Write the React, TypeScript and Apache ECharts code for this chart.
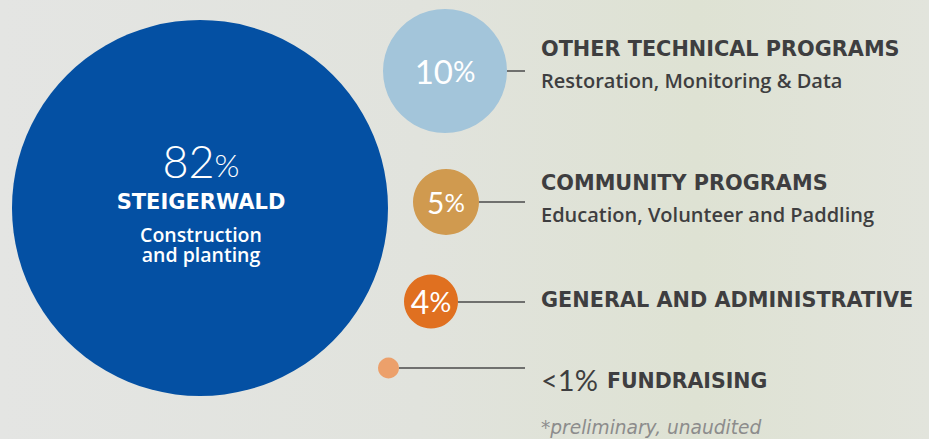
import React, { useEffect, useRef } from "react";
import * as echarts from "echarts";

// ---- data ----
const categories = [
  "STEIGERWALD",
  "OTHER TECHNICAL PROGRAMS",
  "COMMUNITY PROGRAMS",
  "GENERAL AND ADMINISTRATIVE",
  "FUNDRAISING",
];
const values = [82, 10, 5, 4, 0.5];
const percentLabels = ["82", "10", "5", "4", "<1"];
const descriptions = [
  "Construction\nand planting",
  "Restoration, Monitoring & Data",
  "Education, Volunteer and Paddling",
  "",
  "",
];
const footnote = "*preliminary, unaudited";

// ---- layout / style (not data) ----
const W = 929;
const H = 439;
const centers: [number, number][] = [
  [200, 208],
  [445, 71],
  [446, 202],
  [431, 301.5],
  [388.5, 368],
];
const diameters = [376, 124, 66, 54, 21];
const colors = ["#0450a3", "#a3c5da", "#d09a4f", "#e07020", "#eca06b"];
const pctFont = [40, 33, 30, 32, 0];
const lineEndX = 525;
const textX = 541;
const titleY = [0, 48.5, 182.5, 299.5, 379];
const descY = [0, 80, 214.5, 0, 0];
const DARK = "#3e3e40";
const SANS = "'DejaVu Sans', 'Noto Sans', sans-serif";
const SEMI = "'Open Sans', 'DejaVu Sans', sans-serif";
const LIGHT = "Lato, 'Open Sans', 'DejaVu Sans', sans-serif";

export default function App() {
  const ref = useRef<HTMLDivElement>(null);
  useEffect(() => {
    document.body.style.margin = "0";
    const chart = echarts.init(ref.current!, null, { renderer: "svg" });

    const scatterData = values.map((v, i) => {
      let label: any;
      if (i === 0) {
        label = {
          show: true,
          position: "inside",
          offset: [1, -4.5],
          formatter: `{num|${percentLabels[0]}}{pct|%}\n{name|${categories[0]}}\n` +
            descriptions[0].split("\n").map((d) => `{desc|${d}}`).join("\n"),
          rich: {
            num: { fontFamily: LIGHT, fontWeight: 300, fontSize: 45, color: "#fff", lineHeight: 37 },
            pct: { fontFamily: LIGHT, fontWeight: 300, fontSize: 32, color: "#fff", lineHeight: 37, padding: [6, 0, 0, 0] },
            name: { fontFamily: SANS, fontWeight: "bold", fontSize: 21, color: "#fff", lineHeight: 45 },
            desc: { fontFamily: SEMI, fontWeight: 600, fontSize: 19.5, color: "#fff", lineHeight: 20 },
          },
        };
      } else if (i < 4) {
        label = {
          show: true,
          position: "inside",
          formatter: `{num|${percentLabels[i]}}{pct|%}`,
          rich: {
            num: { fontFamily: LIGHT, fontWeight: 400, fontSize: pctFont[i], color: "#fff" },
            pct: { fontFamily: LIGHT, fontWeight: 400, fontSize: pctFont[i] * 0.85, color: "#fff" },
          },
        };
      } else {
        label = { show: false };
      }
      return {
        name: categories[i],
        value: [centers[i][0], centers[i][1], v],
        symbolSize: diameters[i],
        itemStyle: { color: colors[i], opacity: 1 },
        label,
      };
    });

    const connectorData = values.slice(1).map((_, k) => {
      const i = k + 1;
      return {
        coords: [
          [centers[i][0] + diameters[i] / 2, centers[i][1]],
          [lineEndX, centers[i][1]],
        ],
      };
    });

    const graphics: any[] = [
      {
        type: "rect",
        z: -10,
        silent: true,
        shape: { x: 0, y: 0, width: W, height: H },
        style: {
          fill: new echarts.graphic.LinearGradient(0, 0, 1, 0, [
            { offset: 0, color: "#e4e5e3" },
            { offset: 0.45, color: "#e1e3dd" },
            { offset: 0.75, color: "#dee2d3" },
            { offset: 1, color: "#e2e4dc" },
          ]),
        },
      },
    ];
    for (let i = 1; i < 4; i++) {
      graphics.push({
        type: "text",
        x: textX,
        y: titleY[i],
        style: {
          text: categories[i],
          fontFamily: SANS,
          fontWeight: "bold",
          fontSize: 20.8,
          fill: DARK,
          verticalAlign: "middle",
          align: "left",
        },
      });
      if (descriptions[i]) {
        graphics.push({
          type: "text",
          x: textX,
          y: descY[i],
          style: {
            text: descriptions[i],
            fontFamily: SEMI,
            fontWeight: 600,
            fontSize: 20,
            fill: DARK,
            verticalAlign: "middle",
            align: "left",
          },
        });
      }
    }
    graphics.push({
      type: "text",
      x: textX,
      y: titleY[4],
      style: {
        text: `{pct|${percentLabels[4]}%}{t|${categories[4]}}`,
        verticalAlign: "middle",
        align: "left",
        rich: {
          pct: { fontFamily: LIGHT, fontWeight: 400, fontSize: 29, fill: DARK },
          t: { fontFamily: SANS, fontWeight: "bold", fontSize: 20.5, fill: DARK, padding: [4, 0, 0, 9] },
        },
      },
    });
    graphics.push({
      type: "text",
      x: textX,
      y: 427,
      style: {
        text: footnote,
        fontFamily: SANS,
        fontStyle: "italic",
        fontSize: 18.6,
        fill: "#8c8c8c",
        verticalAlign: "middle",
        align: "left",
      },
    });

    chart.setOption({
      animation: false,
      graphic: graphics,
      grid: { left: 0, right: 0, top: 0, bottom: 0 },
      xAxis: { type: "value", min: 0, max: W, show: false },
      yAxis: { type: "value", min: 0, max: H, inverse: true, show: false },
      series: [
        {
          type: "lines",
          coordinateSystem: "cartesian2d",
          z: 1,
          lineStyle: { color: "#4a4a4a", width: 1.5, opacity: 1 },
          data: connectorData,
        },
        {
          type: "scatter",
          z: 2,
          data: scatterData,
        },
      ],
    });
    return () => chart.dispose();
  }, []);
  return <div ref={ref} style={{ width: W, height: H }} />;
}
